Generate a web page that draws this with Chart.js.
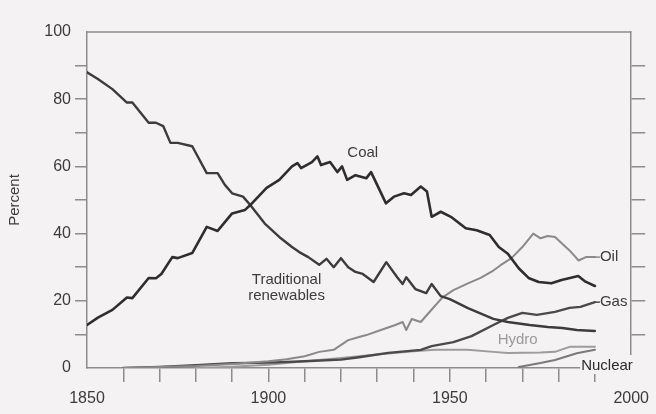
<!DOCTYPE html>
<html lang="en">
<head>
    <meta charset="UTF-8">
    <title>Energy shares 1850-1990</title>
    <script src="https://cdn.jsdelivr.net/npm/chart.js"></script>
    <style>
        html, body {
            margin: 0;
            padding: 0;
            background: #f4f2f2;
        }
        #wrap {
            width: 656px;
            height: 414px;
        }
    </style>
</head>
<body>
    <div id="wrap"><canvas id="energyChart" width="656" height="414"></canvas></div>

    <script>
        // Data (percent of world primary energy)
        const coalYears = [1850, 1853, 1857, 1861, 1862.5, 1867, 1869, 1870.5, 1873.5, 1875, 1879, 1883, 1886, 1888, 1890, 1893.5, 1895, 1899.5, 1903, 1906.5, 1908, 1909, 1912, 1913.5, 1914.5, 1917, 1919, 1920.3, 1921.7, 1924, 1927, 1928.3, 1932.4, 1934.6, 1937.4, 1939.3, 1942, 1943.7, 1945, 1947.5, 1950.3, 1954.4, 1957.4, 1961, 1963.5, 1966, 1969, 1971.7, 1974.5, 1978, 1980.8, 1985.4, 1987.4, 1990];
        const coalValues = [12.8, 15, 17.3, 21, 20.8, 26.8, 26.7, 28, 33, 32.7, 34.2, 42, 40.8, 43.4, 46, 47, 48.5, 53.6, 56, 60, 61, 59.5, 61.3, 63, 60.4, 61.3, 58.3, 60, 56, 57.4, 56.5, 58.3, 49, 51, 52, 51.5, 54, 52.5, 45, 46.5, 45, 41.6, 41, 39.6, 36, 34, 29.7, 26.8, 25.6, 25.2, 26.2, 27.4, 25.7, 24.4];

        const tradYears = [1850, 1853, 1857, 1861, 1862.5, 1867, 1869, 1871, 1873, 1875, 1879, 1883, 1886, 1888, 1890, 1893, 1895, 1899, 1903, 1906.5, 1908.5, 1911, 1914, 1916, 1918, 1920, 1922, 1924, 1926, 1929, 1932.5, 1935.5, 1937, 1938, 1940.5, 1943.5, 1945, 1947.5, 1950, 1955, 1962, 1966, 1972, 1977, 1981, 1985, 1990];
        const tradValues = [88, 86, 83, 79, 79, 73, 73, 72, 67, 67, 66, 58, 58, 54.5, 52, 51, 48.5, 43, 39, 36, 34.5, 33, 30.7, 32.5, 30, 32.7, 30, 28.6, 28, 25.6, 31.5, 27, 25, 27, 23.5, 22.3, 25, 21.4, 20.5, 17.8, 14.6, 13.7, 12.8, 12.2, 11.9, 11.3, 11];

        const oilYears = [1860, 1870, 1880, 1890, 1900, 1905, 1910, 1914, 1918, 1922, 1925, 1927, 1931, 1935, 1937, 1938, 1939.5, 1942, 1945.5, 1948, 1951, 1955, 1958.5, 1962, 1964, 1967, 1970, 1973, 1975, 1977, 1979, 1983, 1985.5, 1987.5, 1990];
        const oilValues = [0, 0.3, 0.6, 1.2, 2, 2.6, 3.5, 4.8, 5.4, 8.3, 9.2, 9.8, 11.3, 12.8, 13.7, 11.3, 14.6, 13.7, 18, 21, 23.2, 25.2, 26.8, 29, 30.6, 32.7, 36, 40, 38.6, 39.3, 39, 35, 32, 33, 33];

        const gasYears = [1860, 1870, 1880, 1890, 1900, 1910, 1920, 1925, 1933, 1942, 1945, 1951, 1956, 1962, 1966, 1970, 1974, 1979, 1983, 1986, 1990];
        const gasValues = [0, 0.3, 0.8, 1.4, 1.6, 2, 2.5, 3.2, 4.5, 5.4, 6.5, 7.7, 9.5, 12.8, 14.9, 16.4, 15.8, 16.7, 17.9, 18.2, 19.6];

        const hydroYears = [1880, 1890, 1900, 1910, 1920, 1930, 1940, 1946, 1955, 1962, 1966, 1975, 1979, 1983, 1990];
        const hydroValues = [0, 0.4, 1, 2, 3, 4, 5, 5.4, 5.4, 4.8, 4.5, 4.6, 4.8, 6.3, 6.3];

        const nuclearYears = [1969, 1975, 1979, 1985, 1990];
        const nuclearValues = [0.3, 1.5, 2.4, 4.4, 5.4];

        const xLabelYears = [1850, 1900, 1950, 2000];
        const yLabelValues = [0, 20, 40, 60, 80, 100];

        function points(years, values) {
            return years.map((yr, i) => ({ x: yr, y: values[i] }));
        }

        const frameColor = '#8c8c8c';
        const textColor = '#3c3c3c';

        // Frame top edge and in-chart line labels
        const annotations = {
            id: 'annotations',
            afterDatasetsDraw(chart) {
                const { ctx, chartArea, scales } = chart;
                const x = scales.x, y = scales.y;
                ctx.save();

                ctx.strokeStyle = frameColor;
                ctx.lineWidth = 1.5;
                ctx.beginPath();
                ctx.moveTo(chartArea.left, chartArea.top);
                ctx.lineTo(chartArea.right, chartArea.top);
                ctx.stroke();

                ctx.font = '15px "Liberation Sans", Arial, sans-serif';
                ctx.textBaseline = 'middle';

                // Coal
                ctx.fillStyle = textColor;
                ctx.textAlign = 'center';
                ctx.fillText('Coal', x.getPixelForValue(1926), y.getPixelForValue(64));
                ctx.fillText('Traditional', x.getPixelForValue(1905), y.getPixelForValue(26.2));
                ctx.fillText('renewables', x.getPixelForValue(1905), y.getPixelForValue(21.4));

                // Hydro (lighter grey)
                ctx.fillStyle = '#9a9a9a';
                ctx.fillText('Hydro', x.getPixelForValue(1968.7), y.getPixelForValue(8.3));

                // Oil & Gas with short leaders
                ctx.textAlign = 'left';
                ctx.lineWidth = 1.5;
                [['Oil', 33, '#8a8a8a'], ['Gas', 19.6, '#4a4a4a']].forEach(([name, v, col]) => {
                    const px = x.getPixelForValue(1990), py = y.getPixelForValue(v);
                    ctx.strokeStyle = col;
                    ctx.beginPath();
                    ctx.moveTo(px, py);
                    ctx.lineTo(px + 5, py);
                    ctx.stroke();
                    ctx.fillStyle = textColor;
                    ctx.fillText(name, px + 5, py);
                });

                // Nuclear sits over the axis corner
                const nx = x.getPixelForValue(1986.2), ny = y.getPixelForValue(0.6);
                ctx.fillStyle = '#f4f2f2';
                ctx.fillRect(nx - 1, ny - 11, 60, 19);
                ctx.fillStyle = '#2a2a2a';
                ctx.fillText('Nuclear', nx, ny);

                ctx.restore();
            }
        };

        const ctx = document.getElementById('energyChart').getContext('2d');
        const energyChart = new Chart(ctx, {
            type: 'line',
            data: {
                datasets: [
                    { label: 'Coal', data: points(coalYears, coalValues), borderColor: '#2e2e2e', borderWidth: 2.6 },
                    { label: 'Traditional renewables', data: points(tradYears, tradValues), borderColor: '#3c3c3c', borderWidth: 2.4 },
                    { label: 'Oil', data: points(oilYears, oilValues), borderColor: '#8a8a8a', borderWidth: 2 },
                    { label: 'Gas', data: points(gasYears, gasValues), borderColor: '#4a4a4a', borderWidth: 2.4 },
                    { label: 'Hydro', data: points(hydroYears, hydroValues), borderColor: '#9c9c9c', borderWidth: 2 },
                    { label: 'Nuclear', data: points(nuclearYears, nuclearValues), borderColor: '#7a7a7a', borderWidth: 2 }
                ]
            },
            options: {
                responsive: false,
                animation: false,
                parsing: true,
                elements: {
                    point: { radius: 0 },
                    line: { tension: 0, fill: false, borderJoinStyle: 'round', borderCapStyle: 'round' }
                },
                layout: { padding: { top: 32, left: 0, right: 0, bottom: 0 } },
                plugins: {
                    legend: { display: false },
                    tooltip: { enabled: false }
                },
                scales: {
                    x: {
                        type: 'linear',
                        min: 1850,
                        max: 2000,
                        afterFit: s => { s.height = 46; },
                        ticks: {
                            stepSize: 10,
                            autoSkip: false,
                            maxRotation: 0,
                            padding: 7,
                            color: textColor,
                            font: { size: 16, family: '"Liberation Sans", Arial, sans-serif' },
                            callback: v => xLabelYears.includes(v) ? String(v) : ''
                        },
                        grid: {
                            drawOnChartArea: false,
                            tickLength: 14,
                            lineWidth: 1.5,
                            color: c => (c.tick && (c.tick.value === 1850 || c.tick.value === 2000)) ? 'rgba(0,0,0,0)' : frameColor
                        },
                        border: { color: frameColor, width: 1.5 }
                    },
                    y: {
                        position: 'left',
                        min: 0,
                        max: 100,
                        afterFit: s => { s.width = 87; },
                        title: {
                            display: true,
                            text: 'Percent',
                            color: textColor,
                            padding: { top: 6, bottom: 0 },
                            font: { size: 15, family: '"Liberation Sans", Arial, sans-serif' }
                        },
                        ticks: {
                            stepSize: 10,
                            padding: 4,
                            color: textColor,
                            font: { size: 16, family: '"Liberation Sans", Arial, sans-serif' },
                            callback: v => yLabelValues.includes(v) ? String(v) : ''
                        },
                        grid: {
                            drawOnChartArea: false,
                            tickLength: 12,
                            lineWidth: 1.5,
                            color: c => (c.tick && (c.tick.value === 0 || c.tick.value === 100)) ? 'rgba(0,0,0,0)' : frameColor
                        },
                        border: { color: frameColor, width: 1.5 }
                    },
                    y2: {
                        position: 'right',
                        min: 0,
                        max: 100,
                        afterFit: s => { s.width = 22; },
                        ticks: {
                            stepSize: 10,
                            color: 'rgba(0,0,0,0)',
                            callback: () => ''
                        },
                        grid: {
                            drawOnChartArea: false,
                            tickLength: 14,
                            lineWidth: 1.5,
                            color: c => (c.tick && (c.tick.value === 0 || c.tick.value === 100)) ? 'rgba(0,0,0,0)' : frameColor
                        },
                        border: { color: frameColor, width: 1.5 }
                    }
                }
            },
            plugins: [annotations]
        });
    </script>
</body>
</html>
